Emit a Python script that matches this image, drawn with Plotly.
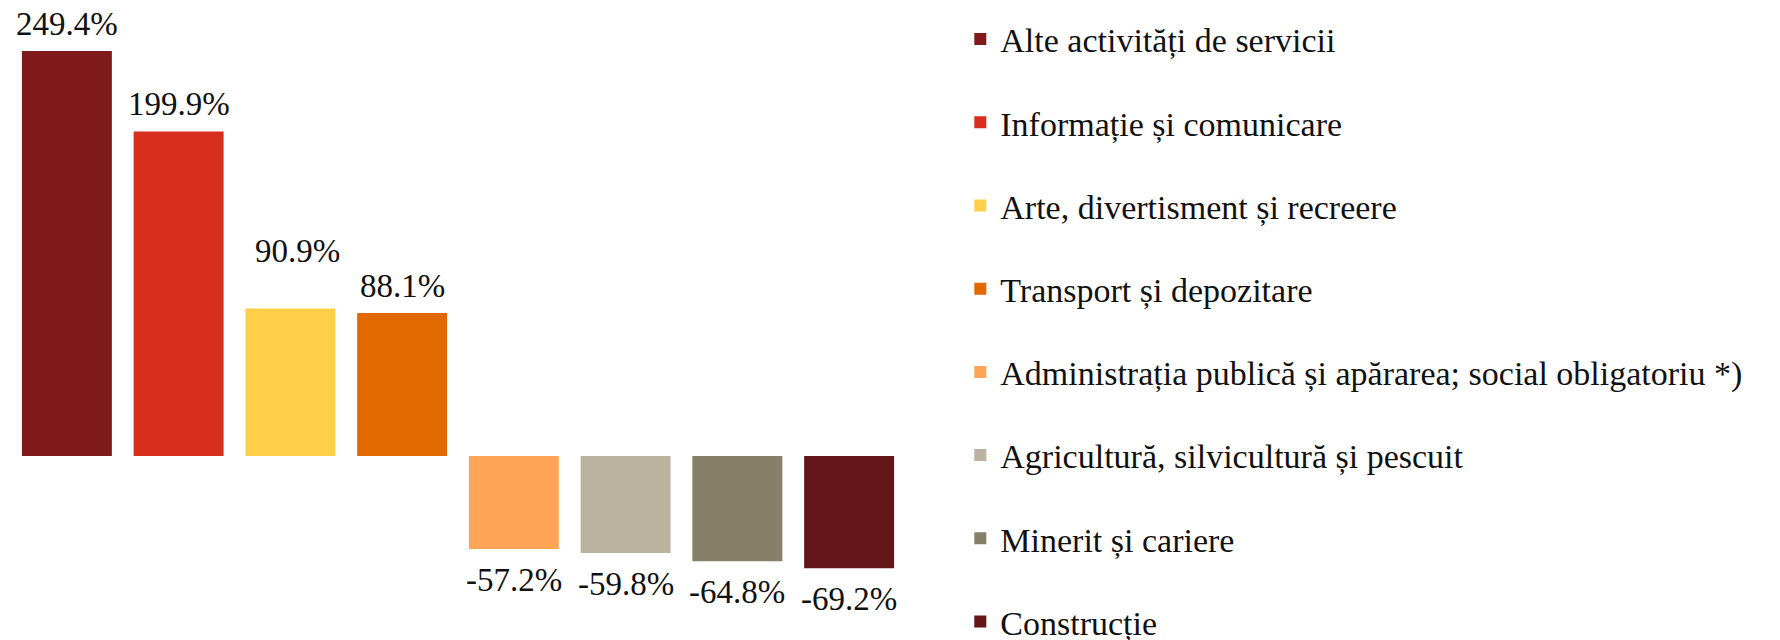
import plotly.graph_objects as go

# --- datos ---
categories = [
    "Alte activități de servicii",
    "Informație și comunicare",
    "Arte, divertisment și recreere",
    "Transport și depozitare",
    "Administrația publică și apărarea; social obligatoriu *)",
    "Agricultură, silvicultură și pescuit",
    "Minerit și cariere",
    "Construcție",
]
values = [249.4, 199.9, 90.9, 88.1, -57.2, -59.8, -64.8, -69.2]
colors = ["#801B1B", "#D72E1E", "#FFCF4A", "#E26900",
          "#FFA555", "#BAB3A0", "#877F68", "#641517"]

FONT = "Georgia, 'Liberation Serif', serif"

# en el original la etiqueta de "Arte..." está algo más arriba y a la derecha
extra_shift = {2: (7, 30)}

fig = go.Figure()
for i, (cat, val, col) in enumerate(zip(categories, values, colors)):
    fig.add_trace(go.Bar(
        x=[i],
        y=[val],
        name=cat,
        legendgroup=cat,
        marker=dict(color=col, line=dict(width=0)),
        hoverinfo="name+y",
    ))
    # etiqueta de valor, encima o debajo de la barra
    dx, dy = extra_shift.get(i, (0, 0))
    fig.add_annotation(
        x=i, y=val,
        text=f"{val:.1f}%",
        showarrow=False,
        yanchor="middle",
        xshift=dx,
        yshift=(27 if val >= 0 else -31) + dy,
        font=dict(family=FONT, size=33, color="#111111"),
    )

# la página añade 8px de margen al body; la figura es algo más alta que
# la ventana para que la leyenda quepa entera sin barra de desplazamiento
fig.update_layout(
    width=1780,
    height=680,
    barmode="overlay",
    bargap=0.195,
    plot_bgcolor="white",
    paper_bgcolor="white",
    margin=dict(l=3, r=883, t=12, b=68),
    xaxis=dict(visible=False, range=[-0.5, 7.5], fixedrange=True),
    yaxis=dict(visible=False, range=[-101, 268.5], fixedrange=True),
    font=dict(family=FONT, size=34, color="#111111"),
    legend=dict(
        xref="container", yref="container",
        x=0.535, y=0.9963, xanchor="left", yanchor="top",
        tracegroupgap=36,
        maxheight=680,
        font=dict(family=FONT, size=34, color="#111111"),
        bgcolor="rgba(0,0,0,0)",
    ),
    showlegend=True,
)

fig.write_html("out.html")
